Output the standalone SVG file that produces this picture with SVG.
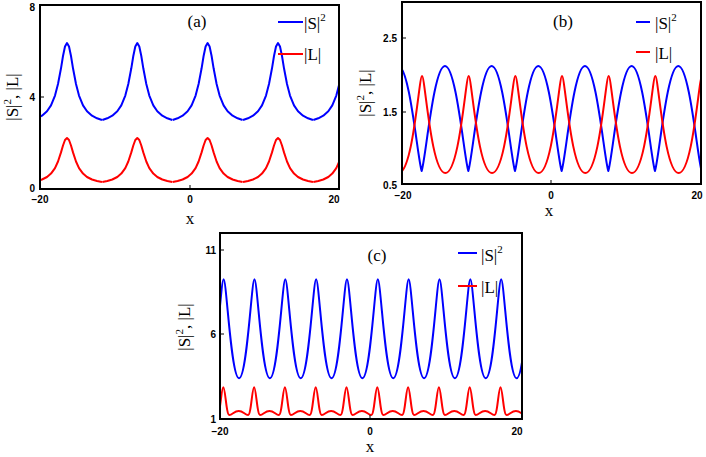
<svg xmlns="http://www.w3.org/2000/svg" xmlns:xlink="http://www.w3.org/1999/xlink" width="706" height="457" viewBox="0 0 706 457">
<style>
.fr{fill:none;stroke:#000;stroke-width:2}
.b{fill:none;stroke:#0000ff;stroke-width:2;stroke-linejoin:round}
.r{fill:none;stroke:#ff0000;stroke-width:2;stroke-linejoin:round}
.tk{font-family:"Liberation Sans",Arial,sans-serif;font-weight:bold;font-size:10px;fill:#000}
.t{font-family:"Liberation Serif","Times New Roman",serif;font-size:17px;fill:#000}
.sup{font-family:"Liberation Serif","Times New Roman",serif;font-size:11px;fill:#000}
</style>
<defs>
<clipPath id="ca"><rect x="40" y="5" width="299" height="184"/></clipPath>
<clipPath id="cb"><rect x="402" y="2" width="299" height="182"/></clipPath>
<clipPath id="cc"><rect x="220" y="233" width="302" height="186"/></clipPath>
<path id="pb" class="b" d="M-35,120 L-30,118.3 -25,115.7 -20,111.3 -16,105.4 -12,95.6 -9,84 -6,68.3 -4,56 -2,46.5 0,43 2,46.5 4,56 6,68.3 9,84 12,95.6 16,105.4 20,111.3 25,115.7 30,118.3 35,120"/>
<path id="pr" class="r" d="M-35,182 L-30,181 -25,179.5 -20,177 -16,173.6 -12,168.1 -9,161.5 -6,152.4 -4,145.5 -2,140 0,138 2,140 4,145.5 6,152.4 9,161.5 12,168.1 16,173.6 20,177 25,179.5 30,181 35,182"/>
</defs>

<g id="panel-a">
<g clip-path="url(#ca)">
<use xlink:href="#pb" x="-3.3"/><use xlink:href="#pb" x="67"/><use xlink:href="#pb" x="137.3"/><use xlink:href="#pb" x="207.6"/><use xlink:href="#pb" x="278"/><use xlink:href="#pb" x="348.3"/>
<use xlink:href="#pr" x="-3.3"/><use xlink:href="#pr" x="67"/><use xlink:href="#pr" x="137.3"/><use xlink:href="#pr" x="207.6"/><use xlink:href="#pr" x="278"/><use xlink:href="#pr" x="348.3"/>
</g>
<rect class="fr" x="40" y="5" width="299" height="184"/>
<path d="M40,97h4M190,189v-4" stroke="#000"/>
<text class="tk" x="35" y="11" text-anchor="end">8</text>
<text class="tk" x="35" y="101" text-anchor="end">4</text>
<text class="tk" x="35" y="192" text-anchor="end">0</text>
<text class="tk" x="40" y="203" text-anchor="middle">−20</text>
<text class="tk" x="190" y="203" text-anchor="middle">0</text>
<text class="tk" x="334" y="203" text-anchor="middle">20</text>
<text class="t" x="190" y="224" text-anchor="middle">x</text>
<text class="t" transform="translate(18,97) rotate(-90)" text-anchor="middle">|S|<tspan class="sup" dy="-7">2</tspan><tspan dy="7">, |L|</tspan></text>
<text class="t" x="197" y="27" text-anchor="middle">(a)</text>
<line x1="278" y1="22" x2="303" y2="22" stroke="#0000ff" stroke-width="2"/>
<text class="t" x="304" y="29">|S|<tspan class="sup" dy="-8">2</tspan></text>
<line x1="278" y1="54" x2="303" y2="54" stroke="#ff0000" stroke-width="2"/>
<text class="t" x="304" y="60">|L|</text>
</g>

<g id="panel-b">
<g clip-path="url(#cb)">
<path class="b" d="M375,171 c4,-12 12,-105 23.33,-105 s19.33,93 23.33,105 c4,-12 12,-105 23.33,-105 s19.33,93 23.33,105 c4,-12 12,-105 23.33,-105 s19.33,93 23.33,105 c4,-12 12,-105 23.33,-105 s19.33,93 23.33,105 c4,-12 12,-105 23.33,-105 s19.33,93 23.33,105 c4,-12 12,-105 23.33,-105 s19.33,93 23.33,105 c4,-12 12,-105 23.33,-105 s19.33,93 23.33,105 c4,-12 12,-105 23.33,-105 s19.33,93 23.33,105"/>
<path class="r" d="M398.7,173 c14.33,0 20.33,-97 23.33,-97 s9,97 23.33,97 c14.33,0 20.33,-97 23.33,-97 s9,97 23.33,97 c14.33,0 20.33,-97 23.33,-97 s9,97 23.33,97 c14.33,0 20.33,-97 23.33,-97 s9,97 23.33,97 c14.33,0 20.33,-97 23.33,-97 s9,97 23.33,97 c14.33,0 20.33,-97 23.33,-97 s9,97 23.33,97 c14.33,0 20.33,-97 23.33,-97 s9,97 23.33,97"/>
</g>
<rect class="fr" x="402" y="2" width="299" height="182"/>
<path d="M402,38h4M402,112h4M551,184v-4" stroke="#000"/>
<text class="tk" x="397" y="42" text-anchor="end">2.5</text>
<text class="tk" x="397" y="116" text-anchor="end">1.5</text>
<text class="tk" x="397" y="189" text-anchor="end">0.5</text>
<text class="tk" x="403" y="199" text-anchor="middle">−20</text>
<text class="tk" x="551" y="199" text-anchor="middle">0</text>
<text class="tk" x="697" y="199" text-anchor="middle">20</text>
<text class="t" x="549" y="216" text-anchor="middle">x</text>
<text class="t" transform="translate(371,93) rotate(-90)" text-anchor="middle">|S|<tspan class="sup" dy="-7">2</tspan><tspan dy="7">, |L|</tspan></text>
<text class="t" x="563" y="27" text-anchor="middle">(b)</text>
<line x1="636" y1="22" x2="650" y2="22" stroke="#0000ff" stroke-width="2"/>
<text class="t" x="655" y="29">|S|<tspan class="sup" dy="-8">2</tspan></text>
<line x1="636" y1="52" x2="650" y2="52" stroke="#ff0000" stroke-width="2"/>
<text class="t" x="655" y="59">|L|</text>
</g>

<g id="panel-c">
<g clip-path="url(#cc)">
<path class="b" d="M208.2,378.3 c8,0 12.5,-99 15.42,-99 s7.42,99 15.42,99 c8,0 12.5,-99 15.42,-99 s7.42,99 15.42,99 c8,0 12.5,-99 15.42,-99 s7.42,99 15.42,99 c8,0 12.5,-99 15.42,-99 s7.42,99 15.42,99 c8,0 12.5,-99 15.42,-99 s7.42,99 15.42,99 c8,0 12.5,-99 15.42,-99 s7.42,99 15.42,99 c8,0 12.5,-99 15.42,-99 s7.42,99 15.42,99 c8,0 12.5,-99 15.42,-99 s7.42,99 15.42,99 c8,0 12.5,-99 15.42,-99 s7.42,99 15.42,99 c8,0 12.5,-99 15.42,-99 s7.42,99 15.42,99 c8,0 12.5,-99 15.42,-99 s7.42,99 15.42,99"/>
<path class="r" d="M192.5,387.3 c2,0 3,27.7 6,27.7 c3,0 5,-4 9.4,-4 c4.4,0 6.4,4 9.4,4 c3,0 4,-27.7 6,-27.7 c2,0 3,27.7 6,27.7 c3,0 5,-4 9.4,-4 c4.4,0 6.4,4 9.4,4 c3,0 4,-27.7 6,-27.7 c2,0 3,27.7 6,27.7 c3,0 5,-4 9.4,-4 c4.4,0 6.4,4 9.4,4 c3,0 4,-27.7 6,-27.7 c2,0 3,27.7 6,27.7 c3,0 5,-4 9.4,-4 c4.4,0 6.4,4 9.4,4 c3,0 4,-27.7 6,-27.7 c2,0 3,27.7 6,27.7 c3,0 5,-4 9.4,-4 c4.4,0 6.4,4 9.4,4 c3,0 4,-27.7 6,-27.7 c2,0 3,27.7 6,27.7 c3,0 5,-4 9.4,-4 c4.4,0 6.4,4 9.4,4 c3,0 4,-27.7 6,-27.7 c2,0 3,27.7 6,27.7 c3,0 5,-4 9.4,-4 c4.4,0 6.4,4 9.4,4 c3,0 4,-27.7 6,-27.7 c2,0 3,27.7 6,27.7 c3,0 5,-4 9.4,-4 c4.4,0 6.4,4 9.4,4 c3,0 4,-27.7 6,-27.7 c2,0 3,27.7 6,27.7 c3,0 5,-4 9.4,-4 c4.4,0 6.4,4 9.4,4 c3,0 4,-27.7 6,-27.7 c2,0 3,27.7 6,27.7 c3,0 5,-4 9.4,-4 c4.4,0 6.4,4 9.4,4 c3,0 4,-27.7 6,-27.7 c2,0 3,27.7 6,27.7 c3,0 5,-4 9.4,-4 c4.4,0 6.4,4 9.4,4 c3,0 4,-27.7 6,-27.7"/>
</g>
<rect class="fr" x="220" y="233" width="302" height="186"/>
<path d="M220,250h4M220,334h4M370,419v-4" stroke="#000"/>
<text class="tk" x="216" y="254" text-anchor="end">11</text>
<text class="tk" x="216" y="338" text-anchor="end">6</text>
<text class="tk" x="216" y="423" text-anchor="end">1</text>
<text class="tk" x="220" y="435" text-anchor="middle">−20</text>
<text class="tk" x="370" y="435" text-anchor="middle">0</text>
<text class="tk" x="517" y="435" text-anchor="middle">20</text>
<text class="t" x="370" y="452" text-anchor="middle" font-size="16">x</text>
<text class="t" transform="translate(190,327) rotate(-90)" text-anchor="middle">|S|<tspan class="sup" dy="-7">2</tspan><tspan dy="7">, |L|</tspan></text>
<text class="t" x="377" y="261" text-anchor="middle">(c)</text>
<line x1="458" y1="253" x2="477" y2="253" stroke="#0000ff" stroke-width="2"/>
<text class="t" x="481" y="261">|S|<tspan class="sup" dy="-8">2</tspan></text>
<line x1="458" y1="286" x2="477" y2="286" stroke="#ff0000" stroke-width="2"/>
<text class="t" x="481" y="293">|L|</text>
</g>
</svg>
